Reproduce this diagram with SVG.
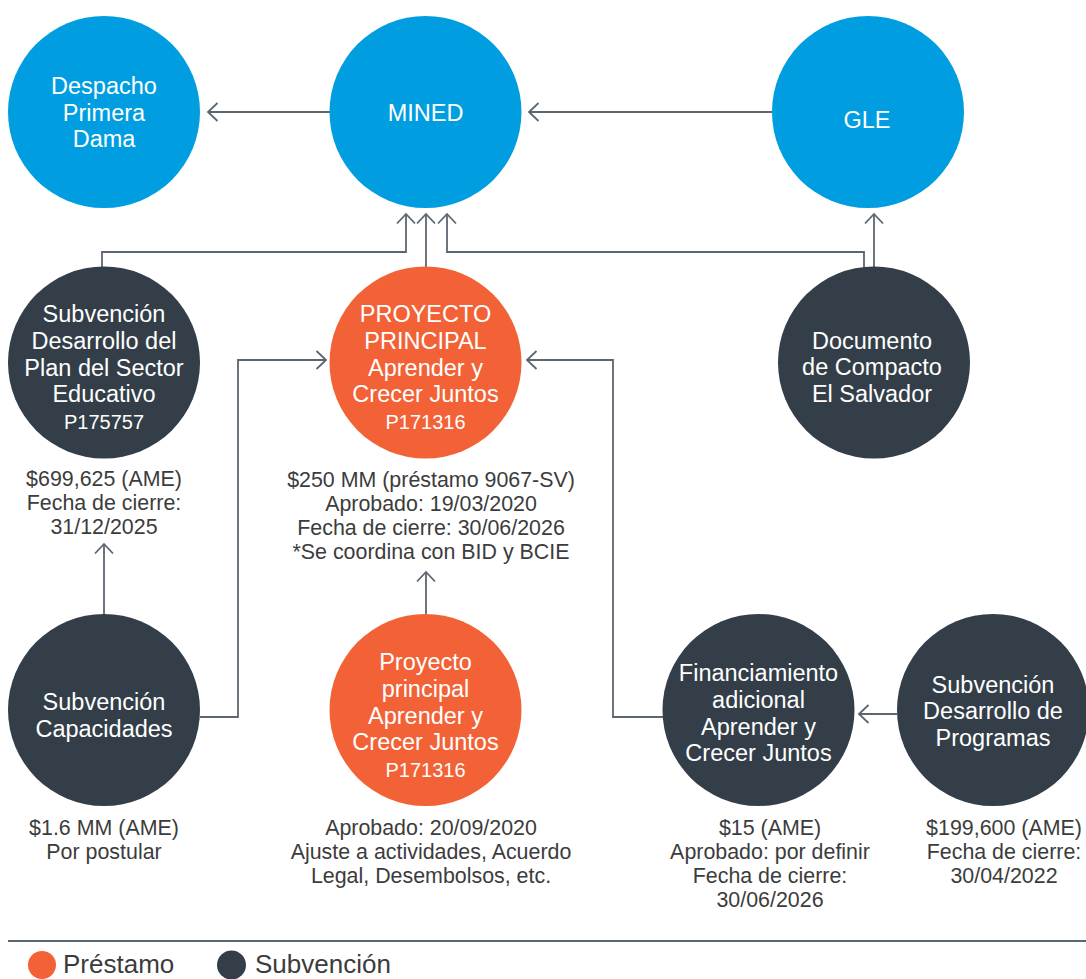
<svg xmlns="http://www.w3.org/2000/svg" width="1086" height="979" viewBox="0 0 1086 979">
<defs>
<style>
.blue{fill:#009EE0}
.orange{fill:#F26236}
.dark{fill:#333E48}
.nt{font-family:"Liberation Sans",Arial,sans-serif;font-size:23.5px;fill:#ffffff;text-anchor:middle}
.code{font-family:"Liberation Sans",Arial,sans-serif;font-size:20px;fill:#ffffff;text-anchor:middle}
.bt{font-family:"Liberation Sans",Arial,sans-serif;font-size:21.4px;fill:#3c3c3c;text-anchor:middle}
.lg{font-family:"Liberation Sans",Arial,sans-serif;font-size:26px;fill:#3c3c3c}
.con{fill:none;stroke:#5C6670;stroke-width:1.8}
</style>
<marker id="ah" markerUnits="userSpaceOnUse" markerWidth="24" markerHeight="24" viewBox="-12 -12 24 24" refX="0" refY="0" orient="auto">
<path d="M-9.5,-9 L0,0 L-9.5,9" fill="none" stroke="#5C6670" stroke-width="1.8"/>
</marker>
</defs>
<rect width="1086" height="979" fill="#ffffff"/>

<g id="connectors">
<path class="con" d="M330,112 H208" marker-end="url(#ah)"/>
<path class="con" d="M772,112 H529" marker-end="url(#ah)"/>
<path class="con" d="M102,267 V252 H406 V214" marker-end="url(#ah)"/>
<path class="con" d="M426,267 V214" marker-end="url(#ah)"/>
<path class="con" d="M864,267 V252 H447 V214" marker-end="url(#ah)"/>
<path class="con" d="M874,267 V214" marker-end="url(#ah)"/>
<path class="con" d="M104,614 V544" marker-end="url(#ah)"/>
<path class="con" d="M426,614 V572" marker-end="url(#ah)"/>
<path class="con" d="M200,717 H238 V360 H326" marker-end="url(#ah)"/>
<path class="con" d="M663,717 H613 V360 H527" marker-end="url(#ah)"/>
<path class="con" d="M897,714 H859" marker-end="url(#ah)"/>
</g>

<g id="despacho">
<circle class="blue" cx="104" cy="112" r="96"/>
<text class="nt" x="104" y="94">Despacho</text>
<text class="nt" x="104" y="120.5">Primera</text>
<text class="nt" x="104" y="147">Dama</text>
</g>

<g id="mined">
<circle class="blue" cx="425.5" cy="112" r="96"/>
<text class="nt" x="425.5" y="121">MINED</text>
</g>

<g id="gle">
<circle class="blue" cx="868" cy="112" r="96"/>
<text class="nt" x="867" y="128">GLE</text>
</g>

<g id="subv-desarrollo-plan">
<circle class="dark" cx="104" cy="362.5" r="96"/>
<text class="nt" x="104" y="322">Subvención</text>
<text class="nt" x="104" y="348.75">Desarrollo del</text>
<text class="nt" x="104" y="375.5">Plan del Sector</text>
<text class="nt" x="104" y="402.25">Educativo</text>
<text class="code" x="104" y="429">P175757</text>
<text class="bt" x="104" y="486">$699,625 (AME)</text>
<text class="bt" x="104" y="510">Fecha de cierre:</text>
<text class="bt" x="104" y="534">31/12/2025</text>
</g>

<g id="proyecto-principal">
<circle class="orange" cx="425.5" cy="362.5" r="96"/>
<text class="nt" x="425.5" y="322">PROYECTO</text>
<text class="nt" x="425.5" y="348.75">PRINCIPAL</text>
<text class="nt" x="425.5" y="375.5">Aprender y</text>
<text class="nt" x="425.5" y="402.25">Crecer Juntos</text>
<text class="code" x="425.5" y="429">P171316</text>
<text class="bt" x="431" y="487">$250 MM (préstamo 9067-SV)</text>
<text class="bt" x="431" y="511">Aprobado: 19/03/2020</text>
<text class="bt" x="431" y="535">Fecha de cierre: 30/06/2026</text>
<text class="bt" x="431" y="559">*Se coordina con BID y BCIE</text>
</g>

<g id="documento">
<circle class="dark" cx="874" cy="362.5" r="96"/>
<text class="nt" x="872" y="348.5">Documento</text>
<text class="nt" x="872" y="375.25">de Compacto</text>
<text class="nt" x="872" y="402">El Salvador</text>
</g>

<g id="subv-capacidades">
<circle class="dark" cx="104" cy="710" r="96"/>
<text class="nt" x="104" y="710">Subvención</text>
<text class="nt" x="104" y="737">Capacidades</text>
<text class="bt" x="104" y="835">$1.6 MM (AME)</text>
<text class="bt" x="104" y="859">Por postular</text>
</g>

<g id="proyecto-principal-2">
<circle class="orange" cx="425.5" cy="710" r="96"/>
<text class="nt" x="425.5" y="670">Proyecto</text>
<text class="nt" x="425.5" y="696.75">principal</text>
<text class="nt" x="425.5" y="723.5">Aprender y</text>
<text class="nt" x="425.5" y="750.25">Crecer Juntos</text>
<text class="code" x="425.5" y="777">P171316</text>
<text class="bt" x="431" y="835">Aprobado: 20/09/2020</text>
<text class="bt" x="431" y="859">Ajuste a actividades, Acuerdo</text>
<text class="bt" x="431" y="883">Legal, Desembolsos, etc.</text>
</g>

<g id="financiamiento">
<circle class="dark" cx="758.5" cy="710" r="96"/>
<text class="nt" x="758.5" y="681">Financiamiento</text>
<text class="nt" x="758.5" y="707.75">adicional</text>
<text class="nt" x="758.5" y="734.5">Aprender y</text>
<text class="nt" x="758.5" y="761.25">Crecer Juntos</text>
<text class="bt" x="770" y="835">$15 (AME)</text>
<text class="bt" x="770" y="859">Aprobado: por definir</text>
<text class="bt" x="770" y="883">Fecha de cierre:</text>
<text class="bt" x="770" y="907">30/06/2026</text>
</g>

<g id="subv-programas">
<circle class="dark" cx="993" cy="710" r="96"/>
<text class="nt" x="993" y="692.5">Subvención</text>
<text class="nt" x="993" y="719.25">Desarrollo de</text>
<text class="nt" x="993" y="746">Programas</text>
<text class="bt" x="1004" y="835">$199,600 (AME)</text>
<text class="bt" x="1004" y="859">Fecha de cierre:</text>
<text class="bt" x="1004" y="883">30/04/2022</text>
</g>

<g id="legend">
<path d="M8,941 H1086" fill="none" stroke="#5C6670" stroke-width="2"/>
<circle class="orange" cx="42" cy="965" r="14"/>
<text class="lg" x="63" y="973">Préstamo</text>
<circle class="dark" cx="231.5" cy="965" r="14.5"/>
<text class="lg" x="255" y="973">Subvención</text>
</g>
</svg>
